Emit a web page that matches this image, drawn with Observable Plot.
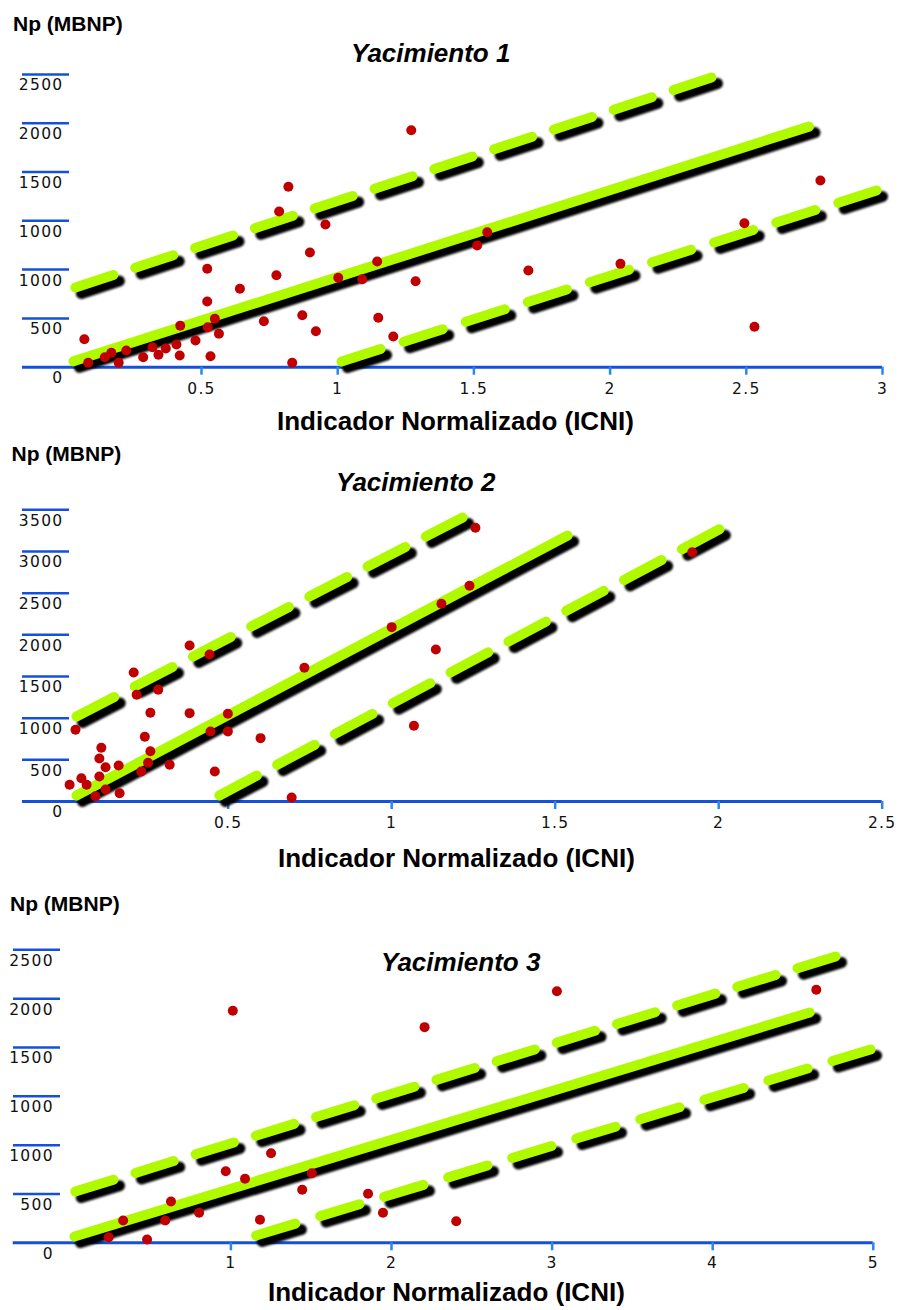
<!DOCTYPE html>
<html>
<head>
<meta charset="utf-8">
<script src="https://cdn.jsdelivr.net/npm/d3@7"></script>
<script src="https://cdn.jsdelivr.net/npm/@observablehq/plot@0.6"></script>
<style>
  html, body { margin: 0; padding: 0; background: #ffffff; }
  #root { position: relative; width: 898px; height: 1310px; overflow: hidden; background: #fff; }
  .txt { position: absolute; white-space: nowrap; line-height: 1; color: #000;
         font-family: "Liberation Sans", Arial, sans-serif; font-weight: bold; }
  .panel { position: absolute; left: 0; }
</style>
</head>
<body>
<div id="root"></div>
<script>
// ---------------- DATA ----------------
// Yacimiento 1
const yac1TickPos = [0, 500, 1000, 1500, 2000, 2500, 3000];
const yac1TickLabels = ["0", "500", "1000", "1000", "1500", "2000", "2500"];
const yac1XTicks = [0.5, 1, 1.5, 2, 2.5, 3];
const yac1DotX = [0.070, 0.084, 0.145, 0.169, 0.196, 0.224, 0.286, 0.320, 0.342, 0.369, 0.408, 0.422, 0.420, 0.478, 0.521, 0.521, 0.523, 0.549, 0.564, 0.533, 0.641, 0.729, 0.775, 0.785, 0.833, 0.870, 0.898, 0.920, 0.955, 1.002, 1.090, 1.145, 1.149, 1.204, 1.286, 1.270, 0.819, 1.549, 1.512, 1.700, 2.038, 2.493, 2.530, 2.772];
const yac1DotY = [287, 45, 102, 148, 45, 171, 102, 205, 127, 192, 233, 424, 120, 274, 1008, 673, 410, 496, 342, 113, 803, 471, 943, 1595, 45, 533, 1175, 369, 1462, 916, 902, 1083, 506, 315, 881, 2428, 1848, 1383, 1247, 991, 1059, 1475, 414, 1913];
const yac1LineKind = ["central", "superior", "inferior"];
const yac1LineX1 = [0.030, 0.037, 1.014];
const yac1LineY1 = [60, 817, 58];
const yac1LineX2 = [2.730, 2.372, 2.978];
const yac1LineY2 = [2465, 2968, 1810];

// Yacimiento 2
const yac2TickPos = [0, 500, 1000, 1500, 2000, 2500, 3000, 3500];
const yac2TickLabels = ["0", "500", "1000", "1500", "2000", "2500", "3000", "3500"];
const yac2XTicks = [0.5, 1, 1.5, 2, 2.5];
const yac2DotX = [0.033, 0.015, 0.051, 0.067, 0.094, 0.125, 0.106, 0.125, 0.106, 0.112, 0.168, 0.165, 0.234, 0.255, 0.262, 0.245, 0.262, 0.220, 0.211, 0.286, 0.321, 0.382, 0.382, 0.443, 0.446, 0.459, 0.499, 0.499, 0.599, 0.694, 0.733, 1.068, 1.135, 1.000, 1.256, 1.238, 1.152, 1.919];
const yac2DotY = [860, 200, 280, 200, 64, 144, 300, 412, 516, 644, 100, 432, 360, 464, 604, 776, 1064, 1280, 1548, 1340, 440, 1872, 1060, 1764, 840, 360, 1052, 840, 760, 48, 1604, 908, 1824, 2092, 3284, 2588, 2372, 2991];
const yac2LineKind = ["central", "superior", "inferior"];
const yac2LineX1 = [0.036, 0.036, 0.473];
const yac2LineY1 = [72, 1020, 72];
const yac2LineX2 = [1.538, 1.217, 2.064];
const yac2LineY2 = [3192, 3408, 3396];

// Yacimiento 3
const yac3TickPos = [0, 500, 1000, 1500, 2000, 2500, 3000];
const yac3TickLabels = ["0", "500", "1000", "1000", "1500", "2000", "2500"];
const yac3XTicks = [1, 2, 3, 4, 5];
const yac3DotX = [0.239, 0.329, 0.478, 0.591, 0.627, 0.802, 0.968, 1.088, 1.181, 1.250, 1.444, 1.504, 1.854, 1.947, 1.012, 2.206, 3.030, 4.645, 2.403];
const yac3DotY = [57, 228, 34, 228, 423, 307, 733, 655, 236, 917, 543, 713, 502, 307, 2376, 2208, 2576, 2591, 221];
const yac3LineKind = ["central", "superior", "inferior"];
const yac3LineX1 = [0.026, 0.031, 1.157];
const yac3LineY1 = [64, 525, 75];
const yac3LineX2 = [4.604, 4.765, 4.983];
const yac3LineY2 = [2358, 2932, 1979];

const titles = ["Yacimiento 1", "Yacimiento 2", "Yacimiento 3"];
const yTitle = "Np (MBNP)";
const xTitle = "Indicador Normalizado (ICNI)";

// ---------------- STYLE / LAYOUT ----------------
const BLUE = "#1450dc";
const TICKBLUE = "#2a86ee";
const GREEN = "#b0fa00";
const RED = "#c00000";

const panels = [
  {
    tickPos: yac1TickPos, tickLabels: yac1TickLabels, xTicks: yac1XTicks,
    dotX: yac1DotX, dotY: yac1DotY,
    kind: yac1LineKind, lx1: yac1LineX1, ly1: yac1LineY1, lx2: yac1LineX2, ly2: yac1LineY2,
    xDomain: [0, 3], yDomain: [0, 3000],
    top: 50, height: 350, mt: 23.9, mb: 33.3, ml: 64.8, mr: 16,
    tickDx: 4.2, labelDx: -1.8, baseInset: -42.8, xPad: 8,
    dash: {superior: "40,23", inferior: "41,24.2"}
  },
  {
    tickPos: yac2TickPos, tickLabels: yac2TickLabels, xTicks: yac2XTicks,
    dotX: yac2DotX, dotY: yac2DotY,
    kind: yac2LineKind, lx1: yac2LineX1, ly1: yac2LineY1, lx2: yac2LineX2, ly2: yac2LineY2,
    xDomain: [0, 2.5], yDomain: [0, 3500],
    top: 470, height: 365, mt: 39.3, mb: 34, ml: 64.2, mr: 16.3,
    tickDx: 4.8, labelDx: -1.2, baseInset: -42.2, xPad: 7,
    dash: {superior: "42.5,23", inferior: "42.5,23"}
  },
  {
    tickPos: yac3TickPos, tickLabels: yac3TickLabels, xTicks: yac3XTicks,
    dotX: yac3DotX, dotY: yac3DotY,
    kind: yac3LineKind, lx1: yac3LineX1, ly1: yac3LineY1, lx2: yac3LineX2, ly2: yac3LineY2,
    xDomain: [0, 5], yDomain: [0, 3000],
    top: 920, height: 355, mt: 29.3, mb: 32.7, ml: 69.8, mr: 25.2,
    tickDx: -9.8, labelDx: -16.5, baseInset: -57.1, xPad: 6,
    dash: {superior: "40,23", inferior: "41,25.9"}
  }
];

const textLayout = [
  // [text, left, top, size, italic]
  [yTitle, 13, 13.0, 21, false],
  [titles[0], 351, 39.8, 26, true],
  [xTitle, 277, 408.3, 26, false],
  [yTitle, 11.5, 442.7, 21, false],
  [titles[1], 336, 469.3, 26, true],
  [xTitle, 278, 845.3, 26, false],
  [yTitle, 10, 892.7, 21, false],
  [titles[2], 381, 949.3, 26, true],
  [xTitle, 268, 1279.3, 26, false]
];

// ---------------- DRAW ----------------
const root = document.getElementById("root");

panels.forEach((p) => {
  const lines = p.kind.map((k, i) => ({kind: k, x1: p.lx1[i], y1: p.ly1[i], x2: p.lx2[i], y2: p.ly2[i]}));
  const dots = p.dotX.map((x, i) => ({x, y: p.dotY[i]}));
  const lab = (d) => p.tickLabels[p.tickPos.indexOf(d)];

  const lineMarks = (color, width, offset) => ["central", "superior", "inferior"].map((k) =>
    Plot.link(lines, {
      filter: (d) => d.kind === k,
      x1: "x1", y1: "y1", x2: "x2", y2: "y2",
      stroke: color, strokeWidth: width, strokeLinecap: "round",
      strokeDasharray: k === "central" ? undefined : p.dash[k],
      dx: offset, dy: offset,
      ariaDescription: offset ? "shadow" : undefined
    })
  );

  const svg = Plot.plot({
    width: 898,
    height: p.height,
    marginTop: p.mt, marginBottom: p.mb, marginLeft: p.ml, marginRight: p.mr,
    x: {domain: p.xDomain},
    y: {domain: p.yDomain},
    style: "font: 15.5px 'DejaVu Sans', Verdana, sans-serif; letter-spacing: 1.3px; background: transparent; overflow: visible; color: #111;",
    marks: [
      // baseline
      Plot.ruleY([0], {stroke: BLUE, strokeWidth: 3, insetLeft: p.baseInset}),
      // x ticks + labels
      Plot.axisX({ticks: p.xTicks, tickSize: 8, tickPadding: p.xPad, stroke: TICKBLUE, strokeWidth: 2.5,
                  fill: "#111", label: null, tickFormat: (d) => String(d)}),
      // y tick lines
      Plot.axisY({ticks: p.tickPos.slice(1), tickSize: 47, dx: p.tickDx, stroke: BLUE, strokeWidth: 2.5,
                  tickFormat: () => "", label: null}),
      // y tick labels (below the tick lines)
      Plot.axisY({ticks: p.tickPos, tickSize: 0, tickPadding: 0, dx: p.labelDx, dy: 11,
                  fill: "#111", tickFormat: lab, label: null}),
      // black shadows, then green lines
      ...lineMarks("#000", 11, 6),
      ...lineMarks(GREEN, 10, 0),
      // data points
      Plot.dot(dots, {x: "x", y: "y", r: 5, fill: RED})
    ]
  });
  d3.select(svg).selectAll("[aria-description=shadow]").style("filter", "blur(1.3px)");
  svg.classList.add("panel");
  svg.style.position = "absolute";
  svg.style.top = p.top + "px";
  svg.style.left = "0px";
  root.appendChild(svg);
});

textLayout.forEach(([t, left, top, size, italic]) => {
  const div = document.createElement("div");
  div.className = "txt";
  div.textContent = t;
  div.style.left = left + "px";
  div.style.top = top + "px";
  div.style.fontSize = size + "px";
  if (italic) div.style.fontStyle = "italic";
  root.appendChild(div);
});
</script>
</body>
</html>
